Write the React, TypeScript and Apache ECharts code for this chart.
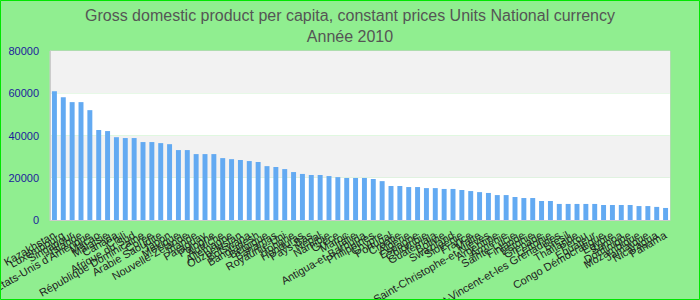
import React, { useEffect, useRef } from "react";
import * as echarts from "echarts";

const titleText = "Gross domestic product per capita, constant prices Units National currency";
const subtitleText = "Année 2010";

const countries: string[] = [
  "Kazakhstan", "Luxembourg", "Singapour", "Islande", "États-Unis d'Amérique",
  "Macao", "Malaisie", "Canada", "Chili", "Afrique du Sud",
  "République Dominicaine", "Corée", "Arabie Saoudite", "Japon", "Mexique",
  "Nouvelle-Zélande", "Irlande", "Paraguay", "Pologne", "Autriche",
  "Allemagne", "Ouzbékistan", "Botswana", "Bangladesh", "Belgique",
  "Bahamas", "Royaume-Uni", "Hongrie", "Honduras", "Pays-Bas",
  "Népal", "Namibie", "Grèce", "Maroc", "Italie",
  "Antigua-et-Barbuda", "Philippines", "Chypre", "Portugal", "Croatie",
  "Algérie", "Espagne", "Colombie", "Guatemala", "Bolivie",
  "Swaziland", "Slovénie", "France", "Malte", "Saint-Christophe-et-Niévès",
  "Argentine", "Arménie", "Sainte-Lucie", "Finlande", "Estonie",
  "Grenade", "Lettonie", "Saint-Vincent-et-les Grenadines", "Brésil", "Thaïlande",
  "Pérou", "Équateur", "Congo Démocratique", "Égypte", "Samoa",
  "Dominique", "Mozambique", "Jamaïque", "Nicaragua", "Panama",
];

const gdpValues: number[] = [
  61000, 58100, 55800, 55800, 52000,
  42600, 42100, 39200, 38800, 38800,
  36900, 36900, 36400, 35900, 33100,
  33100, 31200, 31200, 31200, 29300,
  28800, 28400, 27900, 27400, 25500,
  25100, 24100, 22700, 21800, 21300,
  21300, 20800, 20300, 19900, 19900,
  19900, 19400, 18400, 16100, 16100,
  15600, 15600, 15100, 15100, 14700,
  14700, 14200, 13700, 13200, 12800,
  11800, 11800, 10900, 10400, 10400,
  9000, 9000, 7600, 7600, 7600,
  7600, 7600, 7100, 7100, 7100,
  7100, 6600, 6600, 6200, 5700,
];

const yMin = 0;
const yMax = 80000;
const yInterval = 20000;

export default function App() {
  const ref = useRef<HTMLDivElement>(null);

  useEffect(() => {
    if (!ref.current) return;
    const chart = echarts.init(ref.current, null, { renderer: "svg" });
    chart.setOption({
      animation: false,
      backgroundColor: "#90ee90",
      textStyle: { fontFamily: "Liberation Sans, Arial, sans-serif" },
      title: {
        text: titleText,
        subtext: subtitleText,
        left: "center",
        top: 2,
        itemGap: 5,
        textStyle: { fontSize: 16, fontWeight: "normal", color: "#555555" },
        subtextStyle: { fontSize: 16, color: "#555555" },
      },
      graphic: [
        {
          type: "rect",
          shape: { x: 0.5, y: 0.5, width: 699, height: 299 },
          style: { fill: "none", stroke: "#00e600", lineWidth: 1 },
          silent: true,
          z: 100,
        },
      ],
      grid: {
        left: 50,
        right: 30,
        top: 51,
        bottom: 80,
        containLabel: false,
        outerBoundsMode: "none",
        show: true,
        borderColor: "#cccccc",
        borderWidth: 1,
        backgroundColor: "transparent",
      },
      xAxis: {
        type: "category",
        data: countries,
        axisLine: { show: true, lineStyle: { color: "#cccccc" } },
        axisTick: { show: false },
        axisLabel: {
          interval: 0,
          rotate: 30,
          fontSize: 11,
          color: "#222222",
          margin: 14,
        },
      },
      yAxis: {
        type: "value",
        min: yMin,
        max: yMax,
        interval: yInterval,
        axisLine: { show: true, lineStyle: { color: "#cccccc" } },
        axisTick: { show: false },
        splitLine: { show: false },
        splitArea: { show: true, areaStyle: { color: ["#ffffff", "#f2f2f2"] } },
        axisLabel: {
          fontSize: 11,
          color: "#1c1c9c",
          margin: 11,
          formatter: (v: number) => String(v),
        },
      },
      series: [
        {
          type: "bar",
          data: gdpValues,
          barCategoryGap: "44%",
          itemStyle: { color: "#63aaf2" },
        },
      ],
    });
    return () => chart.dispose();
  }, []);

  return (
    <div
      ref={ref}
      style={{ position: "fixed", left: 0, top: 0, width: 700, height: 300 }}
    />
  );
}
